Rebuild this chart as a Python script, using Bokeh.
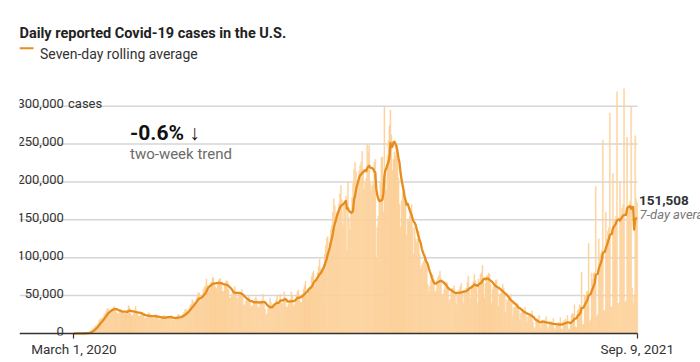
import numpy as np
import pandas as pd
from bokeh.plotting import figure
from bokeh.models import Range1d, FixedTicker, Label, ColumnDataSource
from bokeh.embed import file_html
from bokeh.resources import INLINE

# ---------------- data ----------------
START_DATE = "2020-03-01"
END_DATE = "2021-09-09"

# Daily reported cases, in thousands; one row per week (Sun..Sat)
weekly_rows_k = [
    [0.0, 0.0, 0.1, 0.1, 0.1, 0.1, 0.2],          # Mar 1 2020
    [0.2, 0.3, 0.3, 0.5, 0.6, 0.7, 0.9],
    [1.0, 1.5, 2.5, 3.5, 5.0, 6.5, 7.5],
    [9.5, 10.5, 11.5, 13.5, 17.5, 19.0, 20.0],
    [19.5, 21.5, 25.0, 26.5, 29.5, 32.5, 33.0],
    [27.5, 30.0, 31.5, 32.5, 34.0, 36.0, 33.0],   # Apr 5
    [28.0, 26.5, 26.0, 29.5, 31.5, 31.0, 30.0],
    [27.5, 26.0, 26.5, 28.0, 31.5, 37.0, 34.0],
    [27.0, 23.5, 24.0, 26.5, 29.5, 36.0, 29.5],
    [25.5, 22.5, 23.0, 24.5, 28.0, 27.5, 26.0],   # May 3
    [20.5, 19.5, 21.5, 21.5, 27.5, 26.0, 24.0],
    [19.5, 21.0, 20.5, 22.0, 25.5, 24.5, 22.5],
    [19.5, 17.5, 19.5, 20.0, 22.5, 24.0, 23.5],
    [20.0, 21.0, 20.0, 20.5, 21.5, 24.0, 22.5],   # May 31
    [17.5, 17.5, 19.0, 21.5, 22.5, 25.0, 25.0],
    [19.5, 19.0, 23.5, 25.5, 28.5, 31.5, 32.5],
    [27.5, 28.5, 33.0, 37.5, 39.0, 44.5, 42.5],
    [38.0, 41.0, 45.5, 50.5, 54.0, 53.0, 42.0],   # Jun 28
    [45.5, 46.0, 58.5, 61.0, 63.0, 72.0, 63.5],
    [59.5, 58.0, 64.0, 68.0, 74.0, 73.5, 65.0],
    [61.5, 59.5, 64.5, 70.0, 72.0, 72.5, 66.0],
    [55.5, 55.5, 63.0, 67.5, 70.0, 68.5, 58.0],   # Jul 26
    [47.0, 46.5, 51.5, 55.0, 56.5, 62.0, 55.5],
    [47.5, 46.5, 52.5, 54.5, 52.0, 58.0, 50.0],
    [38.0, 36.5, 43.0, 46.5, 45.5, 49.0, 44.5],
    [34.5, 36.5, 37.5, 40.5, 46.5, 48.0, 44.5],
    [35.0, 33.5, 40.5, 41.0, 44.0, 52.0, 44.0],   # Aug 30
    [32.0, 24.5, 26.5, 33.5, 36.0, 47.0, 41.0],
    [34.5, 35.0, 38.5, 39.0, 44.5, 49.5, 42.0],
    [38.5, 52.0, 39.5, 39.5, 46.0, 55.0, 47.0],
    [35.0, 34.5, 38.5, 41.0, 45.0, 55.0, 49.5],   # Sep 27
    [36.0, 38.0, 43.5, 51.0, 55.5, 57.5, 48.0],
    [41.5, 40.5, 52.0, 58.5, 63.5, 69.0, 56.5],
    [48.5, 58.5, 61.5, 62.5, 75.0, 80.0, 82.0],
    [61.0, 67.0, 73.5, 80.5, 88.5, 98.0, 85.5],
    [79.5, 86.5, 91.5, 104.5, 116.0, 126.0, 128.0],  # Nov 1
    [109.0, 120.0, 137.0, 142.5, 160.0, 178.0, 168.5],
    [139.0, 160.5, 160.5, 171.0, 184.0, 195.5, 176.5],
    [143.5, 170.0, 174.5, 181.5, 110.0, 200.5, 153.0],
    [137.0, 157.5, 179.0, 198.0, 217.0, 226.0, 213.0],  # Nov 29
    [176.0, 193.0, 214.5, 221.5, 226.0, 240.5, 216.5],
    [190.0, 200.0, 205.0, 250.0, 240.0, 248.0, 200.0],
    [188.0, 196.0, 198.0, 226.0, 230.0, 100.0, 140.0],
    [155.0, 174.0, 200.0, 232.0, 233.0, 160.0, 300.0],  # Dec 27
    [210.0, 190.0, 235.0, 255.0, 275.0, 295.0, 262.0],
    [215.0, 230.0, 240.0, 235.0, 245.0, 250.0, 205.0],
    [170.0, 140.0, 175.0, 185.0, 195.0, 190.0, 175.0],
    [130.0, 150.0, 148.0, 155.0, 165.0, 170.0, 140.0],
    [105.0, 140.0, 125.0, 120.0, 125.0, 135.0, 105.0],  # Jan 31 2021
    [85.0, 90.0, 93.0, 95.0, 105.0, 100.0, 90.0],
    [65.0, 55.0, 62.0, 70.0, 70.0, 78.0, 70.0],
    [55.0, 56.0, 70.0, 74.0, 77.0, 82.0, 72.0],
    [51.0, 52.0, 57.0, 68.0, 68.0, 67.0, 58.0],   # Feb 28
    [42.0, 45.0, 55.0, 59.0, 60.0, 63.0, 52.0],
    [38.0, 50.0, 54.0, 58.0, 62.0, 66.0, 55.0],
    [40.0, 54.0, 55.0, 60.0, 67.0, 76.0, 62.0],
    [47.0, 60.0, 62.0, 69.0, 78.0, 70.0, 60.0],   # Mar 28
    [40.0, 72.0, 68.0, 78.0, 80.0, 90.0, 72.0],
    [47.0, 66.0, 75.0, 77.0, 80.0, 78.0, 65.0],
    [40.0, 58.0, 62.0, 66.0, 70.0, 71.0, 60.0],
    [35.0, 52.0, 53.0, 57.0, 65.0, 60.0, 50.0],
    [28.0, 45.0, 42.0, 46.0, 48.0, 52.0, 40.0],   # May 2
    [22.0, 34.0, 35.0, 38.0, 40.0, 38.0, 30.0],
    [18.0, 27.0, 27.0, 29.0, 31.0, 35.0, 23.0],
    [14.0, 22.0, 23.0, 26.0, 24.0, 30.0, 15.0],
    [8.0, 6.0, 17.0, 20.0, 18.0, 24.0, 11.0],     # May 30
    [7.0, 15.0, 14.0, 18.0, 16.0, 22.0, 9.0],
    [6.0, 13.0, 12.0, 16.0, 14.0, 20.0, 7.0],
    [5.0, 12.0, 11.0, 15.0, 13.0, 21.0, 6.0],
    [6.0, 17.0, 14.0, 19.0, 16.0, 24.0, 6.0],     # Jun 27
    [5.0, 10.0, 24.0, 27.0, 25.0, 38.0, 9.0],
    [8.0, 30.0, 32.0, 38.0, 36.0, 81.0, 12.0],
    [12.0, 50.0, 50.0, 55.0, 56.0, 119.0, 16.0],
    [18.0, 80.0, 72.0, 80.0, 80.0, 194.0, 22.0],
    [25.0, 125.0, 100.0, 105.0, 110.0, 255.0, 30.0],  # Aug 1
    [30.0, 160.0, 125.0, 135.0, 140.0, 291.0, 35.0],
    [35.0, 211.0, 140.0, 150.0, 155.0, 319.0, 40.0],
    [40.0, 200.0, 155.0, 165.0, 170.0, 323.0, 42.0],
    [42.0, 259.0, 165.0, 170.0, 175.0, 299.0, 60.0],  # Aug 29
    [40.0, 50.0, 261.0, 178.0, 172.556],              # Sep 5 - Sep 9
]

y_tick_values = [0, 50000, 100000, 150000, 200000, 250000, 300000]
y_tick_labels = ["0", "50,000", "100,000", "150,000", "200,000", "250,000", "300,000"]
y_unit_label = "cases"
x_tick_labels = ["March 1, 2020", "Sep. 9, 2021"]

title_text = "Daily reported Covid-19 cases in the U.S."
legend_text = "Seven-day rolling average"
trend_text = "-0.6% \u2193"
trend_caption = "two-week trend"
avg_caption = "7-day average"

# ---------------- derived ----------------
daily_k = [v for row in weekly_rows_k for v in row]
dates = pd.date_range(START_DATE, END_DATE, freq="D")
assert len(dates) == len(daily_k)
day_index = (dates - dates[0]).days.to_numpy().astype(float)
cases = np.array(daily_k) * 1000.0
avg7 = pd.Series(cases).rolling(7, min_periods=1).mean().to_numpy()
x_tick_days = [float(day_index[0]), float(day_index[-1])]

# ---------------- styling / layout ----------------
FONT = "Roboto, 'Liberation Sans', sans-serif"
BAR_COLOR = "#fdd19b"
LINE_COLOR = "#e68d1e"
GRID_COLOR = "#d6d6d6"
TEXT = "#333333"

W, H = 700, 362                      # figure sits at page (0, 0)
FRAME_L, FRAME_R = 19, 700
FRAME_T, FRAME_B = 0, 335
ZERO_Y = 333.0                       # page y of the value 0
PLOT_R = 637.0                       # page x where the baseline / grid end
X_START = -53.8
PX_PER_DAY = 618.0 / 611.1
X_END = X_START + (FRAME_R - FRAME_L) / PX_PER_DAY
PX_PER_CASE = 227.3 / 300000
Y_MIN = -(FRAME_B - ZERO_Y) / PX_PER_CASE
Y_MAX = (ZERO_Y - FRAME_T) / PX_PER_CASE

def sx(page_x):  # page px -> frame screen x
    return page_x - FRAME_L

def sy(page_y):  # page px -> frame screen y (from bottom)
    return FRAME_B - page_y

def day_at(page_x):
    return X_START + sx(page_x) / PX_PER_DAY

def val_at(page_y):
    return (ZERO_Y - page_y) / PX_PER_CASE

p = figure(width=W, height=H, output_backend="svg", toolbar_location=None,
           x_range=Range1d(X_START, X_END), y_range=Range1d(Y_MIN, Y_MAX),
           y_axis_location=None,
           min_border_left=FRAME_L, min_border_right=W - FRAME_R,
           min_border_top=FRAME_T, min_border_bottom=H - FRAME_B)
p.outline_line_color = None
p.background_fill_color = "white"
p.border_fill_color = "white"
p.xgrid.visible = False
p.ygrid.visible = False

ax = p.xaxis[0]
ax.ticker = FixedTicker(ticks=x_tick_days)
ax.major_label_overrides = {x_tick_days[0]: x_tick_labels[0], x_tick_days[1]: x_tick_labels[1]}
ax.axis_line_color = None
ax.major_tick_line_color = TEXT
ax.major_tick_line_width = 1.2
ax.major_tick_out = 3
ax.major_tick_in = 2
ax.minor_tick_line_color = None
ax.major_label_text_font = FONT
ax.major_label_text_font_size = "13.5px"
ax.major_label_text_color = TEXT
ax.major_label_standoff = 2

# horizontal grid lines at the tick values (drawn through the y scale)
grid_end = day_at(PLOT_R)
p.segment(x0=[X_START] * 6, x1=[grid_end] * 6, y0=y_tick_values[1:], y1=y_tick_values[1:],
          line_color=GRID_COLOR, line_width=1.5)

src = ColumnDataSource(dict(day=day_index, cases=cases, avg=avg7))
p.vbar(x="day", top="cases", bottom=0, width=1.0, source=src,
       fill_color=BAR_COLOR, line_color=BAR_COLOR, line_width=0.4)
p.line(x="day", y="avg", source=src, line_color=LINE_COLOR, line_width=2.3,
       line_join="round")

# baseline (zero line)
p.segment(x0=[X_START], x1=[grid_end], y0=[0], y1=[0], line_color=TEXT, line_width=1.5)

# y tick labels placed through the y scale (data units)
for v, lab in zip(y_tick_values, y_tick_labels):
    p.add_layout(Label(x=sx(63.3), y=v, x_units="screen", y_units="data",
                       text=lab, text_align="right", text_baseline="alphabetic",
                       y_offset=2.5, text_font=FONT, text_font_size="13px",
                       text_color=TEXT))
p.add_layout(Label(x=sx(67.5), y=y_tick_values[-1], x_units="screen", y_units="data",
                   text=y_unit_label, text_align="left", text_baseline="alphabetic",
                   y_offset=2.5, text_font=FONT, text_font_size="13px",
                   text_color=TEXT))

# legend swatch
p.segment(x0=[day_at(19)], x1=[day_at(33)], y0=[val_at(47.7)], y1=[val_at(47.7)],
          line_color=LINE_COLOR, line_width=2)

def add_label(text, px, py, size, style="normal", color=TEXT, align="left"):
    p.add_layout(Label(x=sx(px), y=sy(py), x_units="screen", y_units="screen",
                       text=text, text_font=FONT, text_font_size=size,
                       text_font_style=style, text_color=color,
                       text_align=align, text_baseline="alphabetic"))

add_label(title_text, 19, 32.7, "14.5px", "bold", "#222222")
add_label(legend_text, 39.5, 53.2, "14px")
add_label(trend_text, 129.5, 132.7, "21px", "bold", "#111111")
add_label(trend_caption, 129.5, 153.3, "15px", color="#6b6b6b")
last_avg = avg7[-1]
add_label(f"{last_avg:,.0f}", 638.5, 200, "13.5px", "bold", "#333333")
add_label(avg_caption, 639, 213.5, "13px", "italic", "#777777")

open("out.html", "w").write(file_html(p, INLINE))
